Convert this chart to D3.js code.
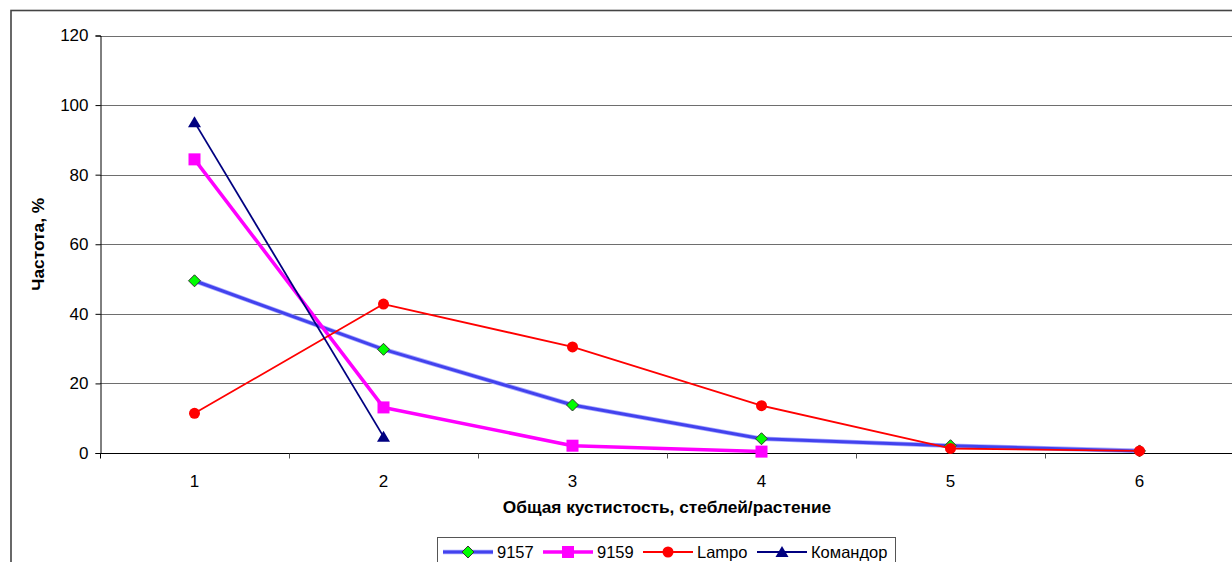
<!DOCTYPE html>
<html>
<head>
<meta charset="utf-8">
<script src="https://cdn.jsdelivr.net/npm/d3@7"></script>
<style>
  html, body { margin: 0; padding: 0; background: #fff; }
  svg { display: block; font-family: "Liberation Sans", Arial, sans-serif; }
</style>
</head>
<body>
<svg id="chart" width="1232" height="562"></svg>
<script>
// Tillering classes (stems per plant)
const categories = ["1", "2", "3", "4", "5", "6"];
const yTicks = [0, 20, 40, 60, 80, 100, 120];

// Frequency, % per variety
const s9157 = [49.5, 29.8, 13.8, 4.1, 2.1, 0.6];
const s9159 = [84.4, 13.1, 2.1, 0.4];
const lampo = [11.4, 42.8, 30.5, 13.6, 1.3, 0.6];
const komandor = [95.1, 4.7];

const seriesNames = ["9157", "9159", "Lampo", "Командор"];

const svg = d3.select("#chart");
const plot = { left: 100, right: 1234, top: 35.5, bottom: 453 };

// outer chart frame
svg.append("rect")
  .attr("x", 11).attr("y", 10.5)
  .attr("width", 1300).attr("height", 700)
  .attr("fill", "#fff").attr("stroke", "#444").attr("stroke-width", 1.6);

const x = d3.scaleBand().domain(categories).range([plot.left, plot.right]).padding(0);
const y = d3.scaleLinear().domain([0, 120]).range([plot.bottom, plot.top]);
const cx = c => x(c) + x.bandwidth() / 2;

// horizontal gridlines
svg.append("g")
  .selectAll("line")
  .data(yTicks.filter(t => t > 0))
  .join("line")
  .attr("x1", plot.left).attr("x2", plot.right)
  .attr("y1", d => Math.round(y(d)) + 0.5).attr("y2", d => Math.round(y(d)) + 0.5)
  .attr("stroke", "#6e6e6e").attr("stroke-width", 1.2);

// Y axis
const yAxis = d3.axisLeft(y).tickValues(yTicks).tickSize(5).tickPadding(7);
const gy = svg.append("g").attr("transform", `translate(${plot.left + 0.5},0)`).call(yAxis);
gy.select(".domain").attr("stroke", "#000");
gy.selectAll(".tick line").attr("stroke", "#000");
gy.selectAll(".tick text")
  .attr("font-size", 17).attr("fill", "#000")
  .attr("font-family", "Liberation Sans, Arial, sans-serif");

// X axis with ticks between categories
const xAxis = d3.axisBottom(x).tickSize(0).tickPadding(21);
const gx = svg.append("g").attr("transform", `translate(0,${plot.bottom + 0.5})`).call(xAxis);
gx.select(".domain").attr("stroke", "#000").attr("d", `M${plot.left},0H${plot.right}`);
gx.selectAll(".tick text")
  .attr("font-size", 17).attr("fill", "#000")
  .attr("font-family", "Liberation Sans, Arial, sans-serif");
gx.append("g")
  .selectAll("line")
  .data(categories.concat(["end"]))
  .join("line")
  .attr("x1", (d, i) => Math.round(plot.left + i * x.bandwidth()) + 0.5)
  .attr("x2", (d, i) => Math.round(plot.left + i * x.bandwidth()) + 0.5)
  .attr("y1", 0).attr("y2", 5)
  .attr("stroke", (d, i) => i === 0 ? "#000" : "#555");

// axis titles
svg.append("text")
  .attr("x", (plot.left + plot.right) / 2).attr("y", 513)
  .attr("text-anchor", "middle")
  .attr("font-size", 17.3).attr("font-weight", "bold")
  .text("Общая кустистость, стеблей/растение");

svg.append("text")
  .attr("transform", `translate(44,${(plot.top + plot.bottom) / 2}) rotate(-90)`)
  .attr("text-anchor", "middle")
  .attr("font-size", 17.3).attr("font-weight", "bold")
  .text("Частота, %");

const line = d3.line().x((d, i) => cx(categories[i])).y(d => y(d));

// marker painters
const markers = {
  diamond: (g, px, py) => g.append("path")
    .attr("d", `M${px},${py - 6}L${px + 6},${py}L${px},${py + 6}L${px - 6},${py}Z`)
    .attr("fill", "#00ff00").attr("stroke", "#333").attr("stroke-width", 1),
  square: (g, px, py) => g.append("rect")
    .attr("x", px - 6).attr("y", py - 6).attr("width", 12).attr("height", 12)
    .attr("fill", "#ff00ff"),
  circle: (g, px, py) => g.append("circle")
    .attr("cx", px).attr("cy", py).attr("r", 5.5)
    .attr("fill", "#ff0000"),
  triangle: (g, px, py) => g.append("path")
    .attr("d", `M${px},${py - 6}L${px + 6.5},${py + 5}L${px - 6.5},${py + 5}Z`)
    .attr("fill", "#000080")
};

const series = [
  { name: seriesNames[0], values: s9157, color: "#4242ee", width: 3, marker: "diamond", halo: true },
  { name: seriesNames[1], values: s9159, color: "#ff00ff", width: 3.5, marker: "square" },
  { name: seriesNames[2], values: lampo, color: "#ff0000", width: 1.8, marker: "circle" },
  { name: seriesNames[3], values: komandor, color: "#000080", width: 1.8, marker: "triangle" }
];

const gLines = svg.append("g");
series.forEach(s => {
  if (s.halo) {
    gLines.append("path").attr("d", line(s.values))
      .attr("fill", "none").attr("stroke", "#a8a8ff").attr("stroke-width", s.width + 1.6);
  }
  gLines.append("path").attr("d", line(s.values))
    .attr("fill", "none").attr("stroke", s.color).attr("stroke-width", s.width)
    .attr("stroke-linejoin", "round");
  s.values.forEach((v, i) => markers[s.marker](gLines, cx(categories[i]), y(v)));
});

// legend
const lg = svg.append("g");
lg.append("rect")
  .attr("x", 437.5).attr("y", 537.5).attr("width", 458).attr("height", 60)
  .attr("fill", "#fff").attr("stroke", "#555").attr("stroke-width", 1);
const legendX = [443, 543, 643, 757];
series.forEach((s, i) => {
  const lx = legendX[i], ly = 552;
  if (s.halo) {
    lg.append("line").attr("x1", lx).attr("x2", lx + 50).attr("y1", ly).attr("y2", ly)
      .attr("stroke", "#a8a8ff").attr("stroke-width", s.width + 1.6);
  }
  lg.append("line").attr("x1", lx).attr("x2", lx + 50).attr("y1", ly).attr("y2", ly)
    .attr("stroke", s.color).attr("stroke-width", s.width);
  markers[s.marker](lg, lx + 25, ly);
  lg.append("text").attr("x", lx + 54).attr("y", ly + 6)
    .attr("font-size", 16.5).attr("fill", "#000").text(s.name);
});
</script>
</body>
</html>
